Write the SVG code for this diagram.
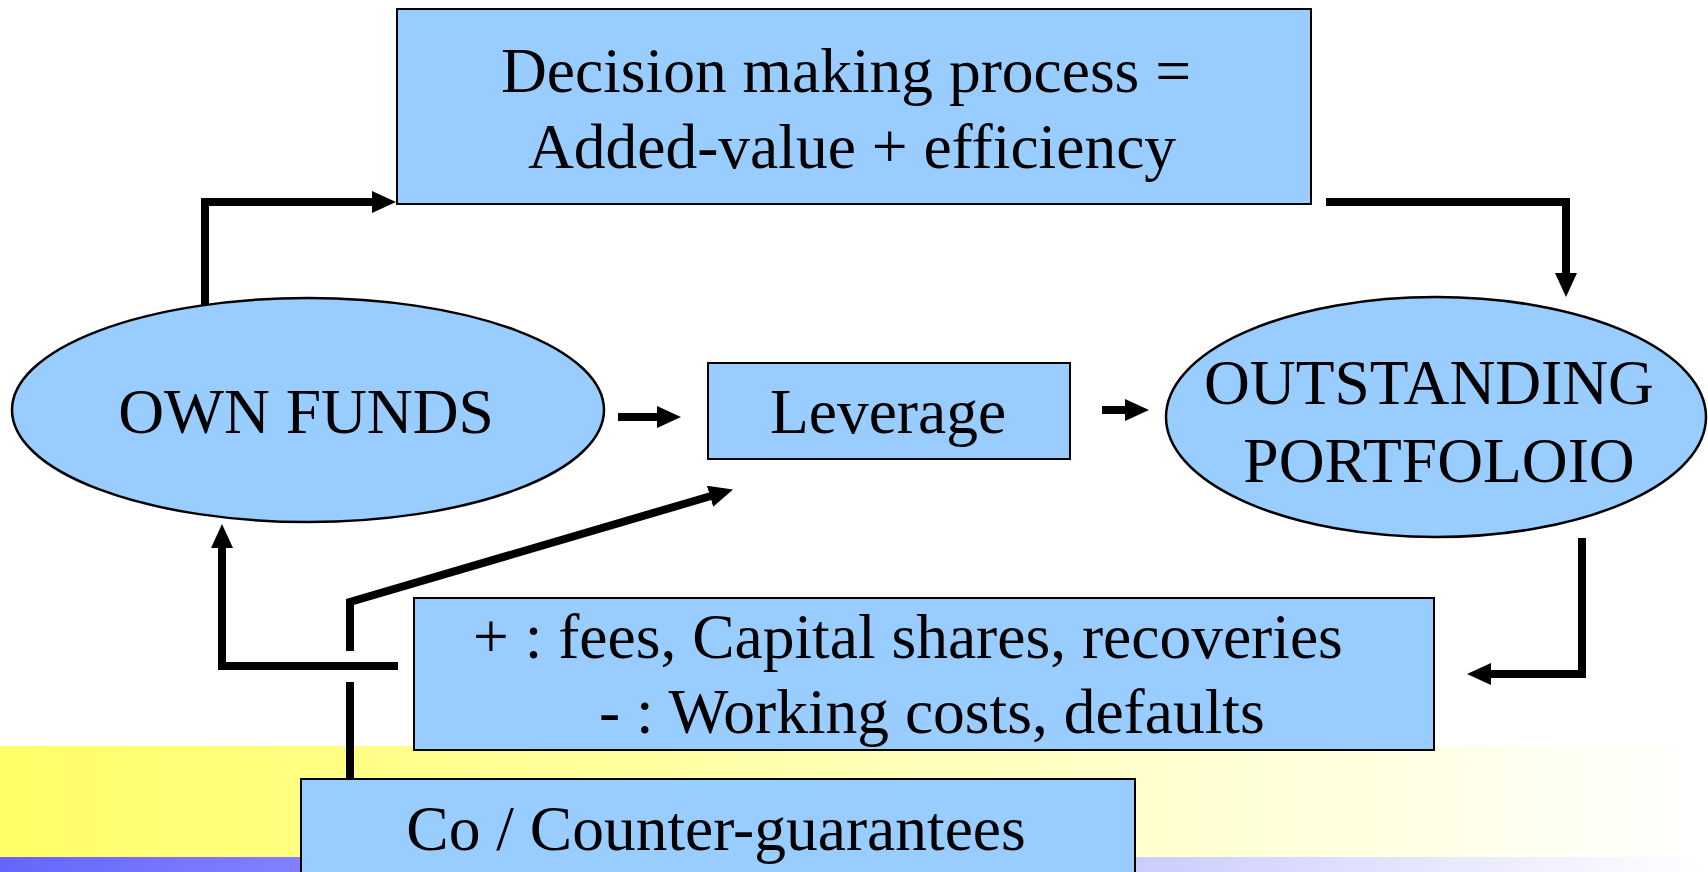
<svg xmlns="http://www.w3.org/2000/svg" width="1708" height="872" viewBox="0 0 1708 872">
  <style>
    .box { fill: #99CCFF; stroke: #000; stroke-width: 2; }
    .oval { stroke-width: 2.5; }
    .lbl { font-family: "Liberation Serif", "Times New Roman", serif; font-size: 63.5px; fill: #000; }
    .mid { text-anchor: middle; }
    .wire { fill: none; stroke: #000; stroke-width: 8; stroke-linejoin: miter; }
  </style>
  <defs>
    <linearGradient id="bandYellow" x1="0" y1="0" x2="1" y2="0">
      <stop offset="0" stop-color="#FFFF66"/>
      <stop offset="1" stop-color="#FFFFFF"/>
    </linearGradient>
    <linearGradient id="bandBlue" x1="0" y1="0" x2="1" y2="0">
      <stop offset="0" stop-color="#6666FF"/>
      <stop offset="1" stop-color="#FFFFFF"/>
    </linearGradient>
    <marker id="head" markerUnits="userSpaceOnUse" viewBox="0 0 24 22" markerWidth="24" markerHeight="22" refX="1" refY="11" orient="auto">
      <path d="M0,0 L24,11 L0,22 z" fill="#000"/>
    </marker>
  </defs>

  <!-- page background and bottom colour bands -->
  <rect x="0" y="0" width="1708" height="872" fill="#FFFFFF"/>
  <rect x="0" y="746" width="1708" height="111" fill="url(#bandYellow)"/>
  <rect x="0" y="857" width="1708" height="15" fill="url(#bandBlue)"/>

  <g id="connectors">
    <!-- own funds up to decision box -->
    <path class="wire" d="M205,315 V202 H373" marker-end="url(#head)"/>
    <!-- decision box down to portfolio -->
    <path class="wire" d="M1326,202 H1566 V274" marker-end="url(#head)"/>
    <!-- portfolio down and back to flows box -->
    <path class="wire" d="M1582,538 V674 H1490" marker-end="url(#head)"/>
    <!-- flows box back to own funds -->
    <path class="wire" d="M398,666 H222 V547" marker-end="url(#head)"/>
    <!-- own funds to leverage -->
    <path class="wire" d="M618,417 H658" marker-end="url(#head)"/>
    <!-- leverage to portfolio -->
    <path class="wire" d="M1102,410 H1126" marker-end="url(#head)"/>
    <!-- guarantees to leverage, with a hop over the return line -->
    <path class="wire" d="M350,779 V682"/>
    <path class="wire" d="M350,651 V602 L711,496" marker-end="url(#head)"/>
  </g>

  <g id="decision">
    <rect class="box" x="397" y="9" width="914" height="195"/>
    <text class="lbl mid" x="846" y="92">Decision making process =</text>
    <text class="lbl mid" x="852" y="168">Added-value + efficiency</text>
  </g>

  <g id="own-funds">
    <ellipse class="box oval" cx="308" cy="410" rx="296" ry="112"/>
    <text class="lbl mid" x="306" y="433">OWN FUNDS</text>
  </g>

  <g id="leverage">
    <rect class="box" x="708" y="363" width="362" height="96"/>
    <text class="lbl mid" x="888" y="433">Leverage</text>
  </g>

  <g id="portfolio">
    <ellipse class="box oval" cx="1436" cy="417" rx="270" ry="120"/>
    <text class="lbl mid" x="1429" y="404">OUTSTANDING</text>
    <text class="lbl mid" x="1439" y="482">PORTFOLOIO</text>
  </g>

  <g id="flows">
    <rect class="box" x="414" y="598" width="1020" height="152"/>
    <text class="lbl" x="473" y="658">+ : fees, Capital shares, recoveries</text>
    <text class="lbl" x="599" y="733">- : Working costs, defaults</text>
  </g>

  <g id="guarantees">
    <rect class="box" x="301" y="779" width="834" height="100"/>
    <text class="lbl mid" x="716" y="850">Co / Counter-guarantees</text>
  </g>
</svg>
